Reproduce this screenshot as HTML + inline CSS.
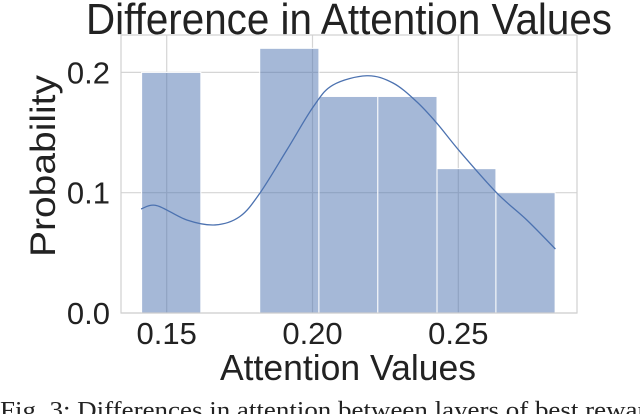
<!DOCTYPE html>
<html><head><meta charset="utf-8"><style>
html,body{margin:0;padding:0;background:#fff;overflow:hidden}
svg text{font-family:"Liberation Sans",Arial,sans-serif;fill:#222}
</style></head><body>
<svg id="chart" width="640" height="414" viewBox="0 0 640 414" xmlns="http://www.w3.org/2000/svg">
<rect x="0" y="0" width="640" height="414" fill="#fff"/>
<g id="grid"></g>
<g id="bars"></g>
<path id="kde" fill="none" stroke="#4c72b0" stroke-width="1.3"/>
<rect x="121" y="35" width="456" height="278" fill="none" stroke="#d0d0d0" stroke-width="1.2"/>
<g id="ticks"></g>
<text x="86" y="34" font-size="44" textLength="526" lengthAdjust="spacingAndGlyphs">Difference in Attention Values</text>
<text x="220" y="380" font-size="36" textLength="256" lengthAdjust="spacingAndGlyphs">Attention Values</text>
<text transform="translate(55,257) rotate(-90)" font-size="35" textLength="182" lengthAdjust="spacingAndGlyphs">Probability</text>
<text x="0" y="418" font-size="24" style="font-family:'Liberation Serif',serif" textLength="660" lengthAdjust="spacingAndGlyphs">Fig. 3: Differences in attention between layers of best reward</text>
</svg>
<script>
const binEdges = [0.1414, 0.1617, 0.1819, 0.2022, 0.2224, 0.2427, 0.2629, 0.2832];
const binValues = [0.20, 0, 0.22, 0.18, 0.18, 0.12, 0.10];
const kdeX = [0.1412,0.1466,0.1569,0.1666,0.1751,0.1820,0.1912,0.2003,0.2070,0.2186,0.2276,0.2357,0.2426,0.2506,0.2632,0.2735,0.2833];
const kdeY = [0.0865,0.0893,0.0773,0.0732,0.0802,0.0998,0.1355,0.1715,0.1895,0.1972,0.1912,0.1757,0.1579,0.1341,0.0998,0.0773,0.0532];
const xTicks = [0.15, 0.20, 0.25];
const xTickLabels = ["0.15", "0.20", "0.25"];
const yTicks = [0.0, 0.1, 0.2];
const yTickLabels = ["0.0", "0.1", "0.2"];

const NS = "http://www.w3.org/2000/svg";
const xs = v => 166.7 + (v - 0.15) * 2916;
const ys = v => 313 - v * 1203;
function mk(tag, attrs, parent){const e=document.createElementNS(NS,tag);for(const k in attrs)e.setAttribute(k,attrs[k]);document.getElementById(parent).appendChild(e);return e;}

xTicks.forEach((t,i)=>{
  const g = mk('line',{x1:xs(t),x2:xs(t),y1:35,y2:313,stroke:'#d5d5d5','stroke-width':1.2},'grid');
  
  
  const l = mk('text',{x:xs(t),y:344,'font-size':31,'text-anchor':'middle'},'ticks');
  l.textContent = xTickLabels[i];
  
  
});
yTicks.forEach((t,i)=>{
  const g = mk('line',{x1:121,x2:577,y1:ys(t),y2:ys(t),stroke:'#d5d5d5','stroke-width':1.2},'grid');
  
  
  const l = mk('text',{x:110,y:ys(t)+11,'font-size':31,'text-anchor':'end'},'ticks');
  l.textContent = yTickLabels[i];
  
  
});
binValues.forEach((v,i)=>{
  if(v<=0) return;
  const x0 = xs(binEdges[i]), x1 = xs(binEdges[i+1]);
  const b = mk('rect',{x:x0,y:ys(v),width:x1-x0,height:ys(0)-ys(v),fill:'rgba(76,114,176,0.5)',stroke:'#fff','stroke-width':1},'bars');
  
  
});
const pts = kdeX.map((x,i)=>[xs(x), ys(kdeY[i])]);
let d = `M${pts[0][0]},${pts[0][1]}`;
for(let i=0;i<pts.length-1;i++){
  const p0=pts[Math.max(0,i-1)],p1=pts[i],p2=pts[i+1],p3=pts[Math.min(pts.length-1,i+2)];
  const c1=[p1[0]+(p2[0]-p0[0])/6,p1[1]+(p2[1]-p0[1])/6];
  const c2=[p2[0]-(p3[0]-p1[0])/6,p2[1]-(p3[1]-p1[1])/6];
  d+=` C${c1[0]},${c1[1]} ${c2[0]},${c2[1]} ${p2[0]},${p2[1]}`;
}
document.getElementById('kde').setAttribute('d', d);
</script>
</body></html>
